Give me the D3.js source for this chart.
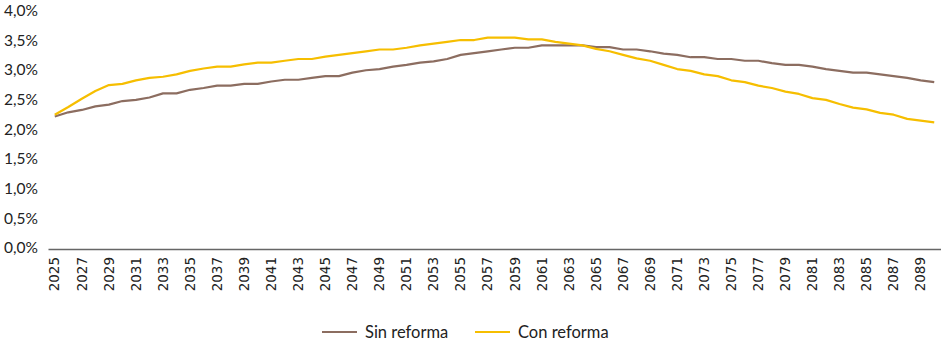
<!DOCTYPE html>
<html>
<head>
<meta charset="utf-8">
<script src="https://cdn.jsdelivr.net/npm/d3@7"></script>
<style>
  body { margin: 0; background: #fff; }
  .axis-y text { font-family: Lato, sans-serif; font-size: 15.5px; fill: #222; }
  .axis-x text { font-family: "DejaVu Sans", Verdana, sans-serif; font-size: 13.5px; fill: #222; }
  .legend text { font-family: Lato, sans-serif; font-size: 16.5px; fill: #222; }
</style>
</head>
<body>
<div id="chart"></div>
<script>
var years = d3.range(2025, 2091)

var sinReforma = [
  2.22, 2.29, 2.33, 2.39, 2.42, 2.48, 2.50, 2.54, 2.61, 2.61,
  2.67, 2.70, 2.74, 2.74, 2.77, 2.77, 2.81, 2.84, 2.84, 2.87,
  2.90, 2.90, 2.96, 3.00, 3.02, 3.06, 3.09, 3.13, 3.15, 3.19,
  3.26, 3.29, 3.32, 3.35, 3.38, 3.38, 3.42, 3.42, 3.42, 3.42,
  3.39, 3.39, 3.35, 3.35, 3.32, 3.28, 3.26, 3.22, 3.22, 3.19,
  3.19, 3.16, 3.16, 3.12, 3.09, 3.09, 3.06, 3.02, 2.99, 2.96,
  2.96, 2.93, 2.90, 2.87, 2.83, 2.80
]

var conReforma = [
  2.25, 2.38, 2.52, 2.65, 2.75, 2.77, 2.83, 2.87, 2.89, 2.93,
  2.99, 3.03, 3.06, 3.06, 3.10, 3.13, 3.13, 3.16, 3.19, 3.19,
  3.23, 3.26, 3.29, 3.32, 3.35, 3.35, 3.38, 3.42, 3.45, 3.48,
  3.51, 3.51, 3.55, 3.55, 3.55, 3.52, 3.52, 3.48, 3.45, 3.42,
  3.36, 3.32, 3.26, 3.20, 3.16, 3.09, 3.02, 2.99, 2.93, 2.90,
  2.83, 2.80, 2.74, 2.70, 2.64, 2.60, 2.53, 2.50, 2.43, 2.37,
  2.34, 2.28, 2.25, 2.18, 2.15, 2.12
]

var yTicks = [0, 0.5, 1, 1.5, 2, 2.5, 3, 3.5, 4]
var seriesNames = ['Sin reforma', 'Con reforma']
var seriesColors = ['#8c6d60', '#f6be00']

var width = 941
var height = 341

var svg = d3.select('#chart')
  .append('svg')
  .attr('width', width)
  .attr('height', height)

var xPositionScale = d3.scaleBand().domain(years).range([48, 941])
var yPositionScale = d3.scaleLinear().domain([0, 4]).range([248, 11])

// y axis, labels only
var yAxis = d3.axisLeft(yPositionScale)
  .tickValues(yTicks)
  .tickSize(0)
  .tickPadding(0)
  .tickFormat(d => d3.format('.1f')(d).replace('.', ',') + '%')
svg.append('g')
  .attr('class', 'axis axis-y')
  .attr('transform', 'translate(38,0)')
  .call(yAxis)
  .call(g => g.select('.domain').remove())
  .selectAll('text')
  .attr('dy', '0.3em')

// x axis: line plus every other year, rotated
var xAxis = d3.axisBottom(xPositionScale)
  .tickValues(years.filter(y => (y - 2025) % 2 === 0))
  .tickSize(0)
svg.append('g')
  .attr('class', 'axis axis-x')
  .attr('transform', 'translate(0,' + (yPositionScale(0) + 1) + ')')
  .call(xAxis)
  .call(g => g.select('.domain').attr('stroke', '#666').attr('stroke-width', 1.3))
  .selectAll('text')
  .attr('transform', 'rotate(-90)')
  .attr('text-anchor', 'end')
  .attr('x', -8)
  .attr('y', 0)
  .attr('dy', '0.35em')

var line = d3.line()
  .x((d, i) => xPositionScale(years[i]) + xPositionScale.bandwidth() / 2)
  .y(d => yPositionScale(d))

var series = [sinReforma, conReforma]
svg.append('g')
  .selectAll('.series')
  .data(series)
  .enter().append('path')
  .attr('class', 'series')
  .attr('d', d => line(d))
  .attr('fill', 'none')
  .attr('stroke', (d, i) => seriesColors[i])
  .attr('stroke-width', 2.2)
  .attr('stroke-linejoin', 'round')

// legend
var legendX = [322, 475]
var legend = svg.append('g').attr('class', 'legend')
  .selectAll('g')
  .data(seriesNames)
  .enter().append('g')
  .attr('transform', (d, i) => 'translate(' + legendX[i] + ',332)')
legend.append('line')
  .attr('x1', 0).attr('x2', 35)
  .attr('stroke', (d, i) => seriesColors[i])
  .attr('stroke-width', 2.2)
legend.append('text')
  .attr('x', 43)
  .attr('dy', '0.35em')
  .text(d => d)
</script>
</body>
</html>
